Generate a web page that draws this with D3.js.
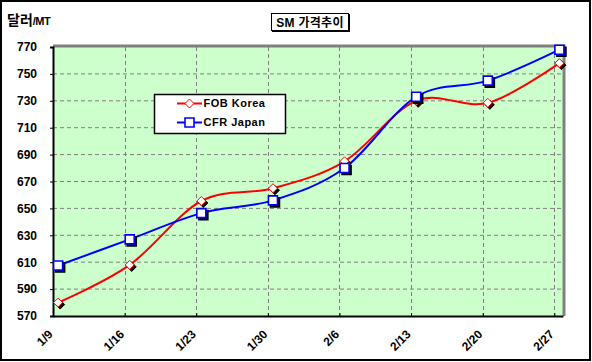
<!DOCTYPE html>
<html>
<head>
<meta charset="utf-8">
<script src="https://cdn.jsdelivr.net/npm/d3@7"></script>
<style>
html,body{margin:0;padding:0;background:#fff;}
svg{display:block;}
text{font-family:Arial,"Liberation Sans","Noto Sans CJK KR",sans-serif;font-weight:bold;fill:#000;}
</style>
</head>
<body>
<svg id="chart" width="592" height="362"></svg>
<script>
// ---- data ----
const dates = ["1/9","1/16","1/23","1/30","2/6","2/13","2/20","2/27"];
const fobKorea = [580, 608, 655.5, 665, 685, 730, 728.5, 758];
const cfrJapan = [607.5, 627, 646.5, 656, 680, 733, 745, 768];
const yTicks = [570, 590, 610, 630, 650, 670, 690, 710, 730, 750, 770];
const seriesNames = ["FOB Korea", "CFR Japan"];
const title = "SM 가격추이";
const yUnitMain = "달러";
const yUnitSub = "/MT";
const year = 2003;

// ---- layout ----
const W = 592, H = 362;
const plot = {l: 53, t: 47, r: 563, b: 316};
const svg = d3.select("#chart");

const parse = s => { const [m, d] = s.split("/").map(Number); return new Date(year, m - 1, d); };
const dayMs = 864e5;
const dateObjs = dates.map(parse);
const x = d3.scaleTime()
  .domain([dateObjs[0], new Date(+dateObjs[dateObjs.length - 1] + 0.85 * dayMs)])
  .range([plot.l, plot.r]);
const xp = d => x(new Date(+d + 0.5 * dayMs)); // points sit mid-day
const y = d3.scaleLinear().domain([570, 770]).range([plot.b, plot.t]);

// outer border
svg.append("rect").attr("x", 1).attr("y", 1).attr("width", W - 3).attr("height", H - 3)
  .attr("fill", "#fff").attr("stroke", "#000").attr("stroke-width", 2);

// plot background
svg.append("rect").attr("x", plot.l).attr("y", plot.t)
  .attr("width", plot.r - plot.l).attr("height", plot.b - plot.t)
  .attr("fill", "#ccffcc");

// gridlines
const grid = svg.append("g");
grid.selectAll("line.h").data(yTicks.slice(1, -1)).join("line")
  .attr("x1", plot.l).attr("x2", plot.r)
  .attr("y1", d => y(d)).attr("y2", d => y(d))
  .attr("stroke", "#808080").attr("stroke-width", 1).attr("stroke-dasharray", "4,3");
grid.selectAll("line.v").data(dateObjs.slice(1)).join("line")
  .attr("x1", d => Math.round(x(d)) + 0.5).attr("x2", d => Math.round(x(d)) + 0.5)
  .attr("y1", plot.t).attr("y2", plot.b)
  .attr("stroke", "#808080").attr("stroke-width", 1).attr("stroke-dasharray", "4,3");

// plot border (top/right gray)
svg.append("path")
  .attr("d", `M${plot.l},${plot.t - 1}H${plot.r + 1}V${plot.b}`)
  .attr("fill", "none").attr("stroke", "#808080").attr("stroke-width", 3);

// axes
const yAxis = d3.axisLeft(y).tickValues(yTicks).tickSize(3).tickFormat(d3.format("d"));
const gy = svg.append("g").attr("transform", `translate(${plot.l},0)`).call(yAxis);
gy.select(".domain").attr("stroke", "#000").attr("stroke-width", 2);
gy.selectAll(".tick line").attr("stroke", "#000");
gy.selectAll(".tick text").attr("x", -16).attr("font-size", 12).attr("font-weight", "bold")
  .attr("fill", "#000").attr("font-family", "Arial, 'Liberation Sans', sans-serif");

const xAxis = d3.axisBottom(x).tickValues(dateObjs).tickSizeInner(-3).tickSizeOuter(0)
  .tickFormat((d, i) => dates[i]);
const gx = svg.append("g").attr("transform", `translate(0,${plot.b})`).call(xAxis);
gx.select(".domain").attr("stroke", "#000").attr("stroke-width", 2);
gx.selectAll(".tick line").attr("stroke", "#000");
gx.selectAll(".tick text")
  .attr("font-size", 12).attr("font-weight", "bold").attr("fill", "#000")
  .attr("font-family", "Arial, 'Liberation Sans', sans-serif")
  .attr("text-anchor", "end")
  .attr("y", 0).attr("dy", "0.35em")
  .attr("transform", "translate(-3,16) rotate(-45)");

// lines
const line = d3.line().x((d, i) => xp(dateObjs[i])).y(d => y(d)).curve(d3.curveCatmullRom.alpha(0));
const colors = ["#ff0000", "#0000ff"];
const seriesVals = [fobKorea, cfrJapan];
seriesVals.forEach((vals, si) => {
  svg.append("path").datum(vals).attr("d", line)
    .attr("fill", "none").attr("stroke", colors[si]).attr("stroke-width", 2);
});

// markers
const diamond = (cx, cy, r) => `M${cx},${cy - r}L${cx + r},${cy}L${cx},${cy + r}L${cx - r},${cy}Z`;
const square = (cx, cy, r) => `M${cx - r},${cy - r}H${cx + r}V${cy + r}H${cx - r}Z`;
const shapes = [(cx, cy) => diamond(cx, cy, 4.5), (cx, cy) => square(cx, cy, 4.5)];
const strokeW = [1, 1.6];
seriesVals.forEach((vals, si) => {
  const g = svg.append("g");
  g.selectAll("path.sh").data(vals).join("path")
    .attr("d", (d, i) => shapes[si](xp(dateObjs[i]) + 2, y(d) + 2))
    .attr("fill", "#000").attr("stroke", "#000").attr("stroke-width", strokeW[si]);
  g.selectAll("path.mk").data(vals).join("path")
    .attr("d", (d, i) => shapes[si](xp(dateObjs[i]), y(d)))
    .attr("fill", "#fff").attr("stroke", colors[si]).attr("stroke-width", strokeW[si]);
});

// legend
const lg = svg.append("g");
lg.append("rect").attr("x", 154.5).attr("y", 94.5).attr("width", 131).attr("height", 39)
  .attr("fill", "#fff").attr("stroke", "#000").attr("stroke-width", 1.5);
seriesNames.forEach((name, si) => {
  const ly = 103.5 + si * 19;
  lg.append("line").attr("x1", 177).attr("x2", 202).attr("y1", ly).attr("y2", ly)
    .attr("stroke", colors[si]).attr("stroke-width", 2);
  lg.append("path").attr("d", shapes[si](189.5, ly))
    .attr("fill", "#fff").attr("stroke", colors[si]).attr("stroke-width", strokeW[si]);
  lg.append("text").attr("x", 203.5).attr("y", ly).attr("dy", "0.36em")
    .attr("font-size", 11).attr("letter-spacing", "0.5px").text(name);
});

// title box
const tg = svg.append("g");
tg.append("rect").attr("x", 271.5).attr("y", 13.5).attr("width", 77).attr("height", 17)
  .attr("fill", "#fff").attr("stroke", "#000").attr("stroke-width", 1);
tg.append("line").attr("x1", 349.5).attr("x2", 349.5).attr("y1", 14).attr("y2", 31.5)
  .attr("stroke", "#000").attr("stroke-width", 1);
tg.append("line").attr("x1", 272).attr("x2", 350).attr("y1", 31.5).attr("y2", 31.5)
  .attr("stroke", "#000").attr("stroke-width", 1);
tg.append("text").attr("x", 310).attr("y", 26.5).attr("text-anchor", "middle")
  .attr("font-size", 12).attr("font-family", "'Noto Sans CJK KR', Arial, sans-serif")
  .attr("letter-spacing", "0.3px").text(title);

// y unit label
const ut = svg.append("text").attr("x", 7).attr("y", 25);
ut.append("tspan").attr("font-size", 14).attr("font-family", "'Noto Sans CJK KR', sans-serif").text(yUnitMain);
ut.append("tspan").attr("font-size", 11).attr("letter-spacing", "-0.5px")
  .attr("font-family", "Arial, 'Liberation Sans', sans-serif").text(yUnitSub);
</script>
</body>
</html>
